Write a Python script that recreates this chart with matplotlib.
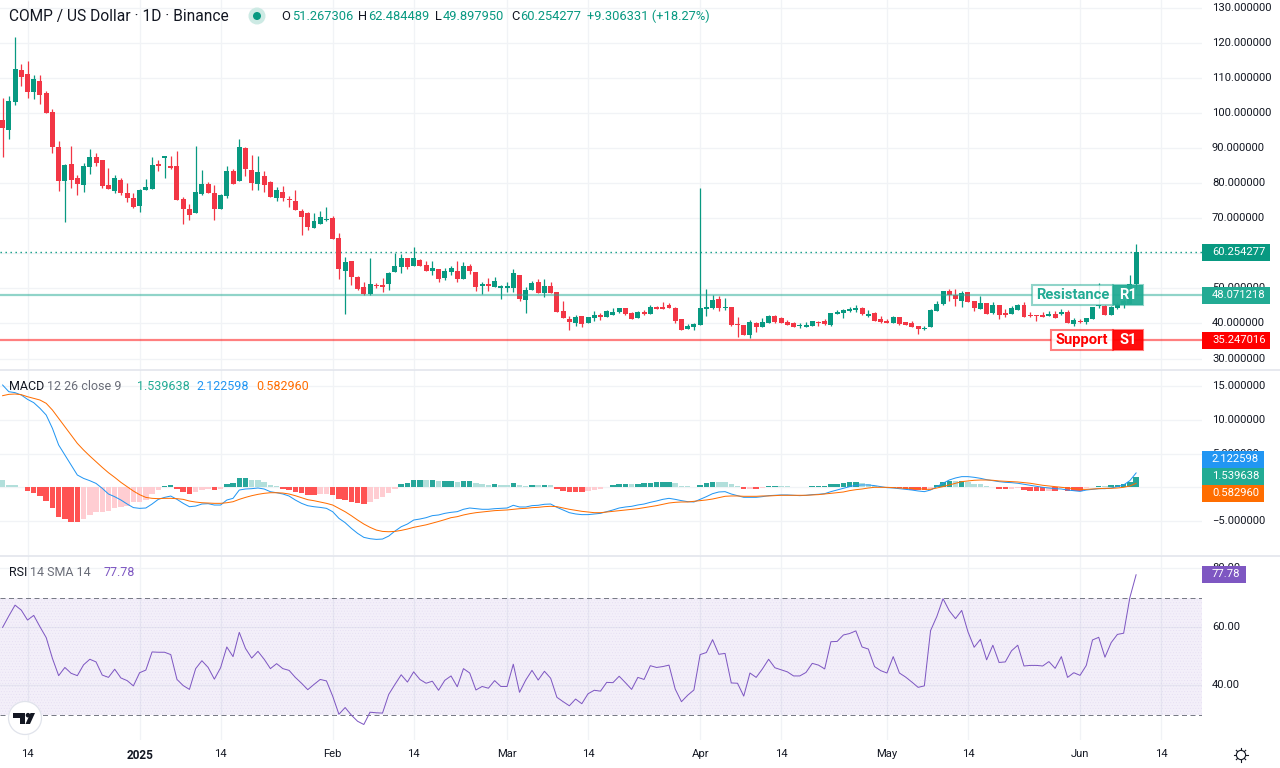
import numpy as np
import pandas as pd
import matplotlib
matplotlib.use("Agg")
import matplotlib.pyplot as plt
import matplotlib.dates as mdates
from matplotlib.patches import Rectangle, Circle, Polygon
from matplotlib.transforms import ScaledTranslation

plt.rcParams['font.family'] = ['Roboto', 'DejaVu Sans']
plt.rcParams['hatch.linewidth'] = 0.35

START_DATE = "2024-12-10"

HIGH = [104.1,104.8,121.5,113.9,114.8,110.8,110.8,106.2,101.1,92,
85.4,90.5,82.3,85.7,89.7,88.5,86.6,84.3,82.3,81.4,
80,77.1,78.3,81.1,87.4,86.6,87.7,87.7,89.1,76,
74,90.5,83.7,80.3,79.4,76.9,84.8,84,92.5,90.3,
88,87.7,83.4,80.6,78.9,79.1,76.3,78,72.6,71.7,
71.4,72,73.2,70.6,65.7,58.9,57.8,53.5,51.8,58.6,
51.5,52.9,54.6,60.1,59.8,58.6,61.8,58.3,57.8,57.8,
55.5,55.8,56.3,57.8,57.5,56.9,54.6,51.8,52.9,53.2,
51,51.8,55.5,53.8,50.4,52,52.6,52.6,51.8,49,
46.4,42.1,42.4,42.1,41.8,43.5,43,43.8,44.4,44.4,
44.4,43.2,43.5,43.8,45.2,45,46.1,45.8,44.7,41.2,
39.8,40.1,78.6,49.8,48.1,47.8,47.2,44.7,41.8,39.5,
41,40.4,41.5,42.4,42.4,41.8,41,40.4,40.1,40.4,
40.8,40.7,41.2,43,43.8,44.1,44.7,45.2,44.7,43.8,
43.2,42.1,41.2,42.1,41.8,40.4,40.7,39.3,39.3,44.1,
46.4,49.2,49.8,49.8,49.2,49,46.4,47.8,45.8,46.1,
45.2,44.1,45,45.5,46.1,43.2,42.4,43.2,43.5,43.5,
44.1,43.8,41.5,41.3,41.5,44.7,51.5,45.2,45,46,
47,53.8,62.484489]

LOW = [87.5,92.5,102.2,107.6,104.2,103.9,102.5,100,88.6,77.7,
68.9,78.6,76.6,77.4,82.6,84.8,78.6,78.3,77.1,76.6,
74.6,72.9,71.7,78,78.3,83.4,81.4,84,75.1,68.3,
69.5,71.5,76.6,77.1,69.5,72.6,75.7,79.7,80.6,82,
78,78,77.4,76,74.9,74.9,73.1,72.3,65.2,66.7,
67.2,68.3,69.2,64,52.6,42.7,51,49.5,48.1,48.1,
50,49,49.5,54.6,54.4,55.5,56.3,56.3,55,53.8,
51.8,52.4,53.8,51.8,52.6,54.1,49.2,48.4,49.2,50.4,
47,49,49,46.4,43,49.5,48.7,47.5,48.7,43.2,
41.5,38.1,39.3,39,40,40.7,41,41.8,42.4,43,
42.4,41.2,41.5,42.4,42.7,44.1,44.1,44.4,40.1,38.1,
38.4,38.1,39.5,42.1,44.1,43.5,43.8,39.2,36.1,36.7,
35.8,37.5,39,40.1,40.1,40,39.5,38.9,38.6,39,
39.2,39.2,39.5,39.3,42.7,41.5,43.2,43.2,42.4,41.8,
40.7,40.1,40.1,40.1,39.5,39.5,39,37,38.1,39,
43.5,45.2,46.4,45,44.7,46.1,43.5,44.1,42.7,42.7,
41.3,41.8,42.7,43.8,41.8,41.8,40.7,41.8,42.1,41.5,
42.4,40.1,39.3,40.1,39.8,41.3,44.4,42.4,42.4,44,
44.4,45.5,49.89795]

OPEN = [97.95,95.1,103.1,112.2,111,105.9,109.1,105.6,100.2,90.3,
80.6,85.4,81.4,79.4,84.6,87.4,86.5,79.4,77.7,80.9,
77.1,75.7,73.5,78,78.3,85.4,87,84.8,84.8,75.4,
72.6,71.5,76.9,79.7,77.1,72.6,76.3,83.4,80.6,90,
83.7,79.7,82,80.3,75.7,77.4,75.5,74.9,72,71.4,
67.2,68.3,69.5,70,64.3,54.9,57.8,53.2,50.4,48.4,
51,51,51.2,54.6,56,58.6,56.3,58,56.6,55,
55.5,52.9,54.6,55,52.6,56.3,54.6,50.7,51.2,50.4,
50.1,50.1,50.1,53.8,46.6,49.5,51.8,48.7,50.7,49,
43.5,41.2,40.1,42.1,40.1,41.5,42.4,41.8,42.4,43.2,
44.4,43,41.5,43.2,42.7,44.7,44.7,45.2,44.4,41.2,
38.4,39,39.5,44.1,44.4,47,44.4,44.7,39.8,39.5,
36.7,40.1,39,40.1,42.1,41.5,40.4,40.1,39.2,39,
39.3,40.4,40.7,39.5,42.7,43,43.5,43.8,44.4,42.1,
43,41.2,40.7,40.1,41.8,40.4,40.1,39.3,38.5,39,
43.5,45.5,49.2,48.1,46.4,49,46.4,44.1,45.8,43,
45.2,43,42.7,43.8,45.2,42.4,42.3,42.4,42.1,42.7,
42.7,43.2,39.8,40.8,40.4,41.3,44.9,45,42.4,44.5,
45.2,45.6,51.267306]

CLOSE = [95.8,103.4,112.5,110.2,105.9,109.6,105.1,100,90.3,80.6,
85.1,80.9,79.7,84.8,87.4,85.7,79.1,78.3,81.4,77.1,
75.7,73.2,78,78.9,85.1,84.8,87.7,84.3,75.1,72.6,
70.9,77.4,79.7,77.1,72.6,76.6,83.4,79.7,90.3,84,
80,83.1,79.4,76,78,75.7,75.2,72.3,70.3,67.5,
69.2,70.3,69.8,64,55.5,57.5,53.2,49.8,48.4,51.2,
50.7,50.4,54.4,56.3,58.6,56,58.6,56.3,55,55.8,
52.6,55,55.8,52.6,56.3,55,50.4,51.2,50.7,52.1,
50.7,50.7,54.4,47,49.5,51.5,48.7,50.7,48.7,43.2,
41.5,40.4,41.8,39.8,41.8,42.4,41.8,43.5,43.2,44.4,
42.7,41.2,43.2,42.7,44.7,44.1,44.1,44.4,40.7,38.1,
39.2,39.8,44.4,44.7,46.7,44.4,44.7,39.5,39.5,36.7,
40.4,39,40.4,42.1,40.4,40.1,39.5,39,39.5,39.5,
40.7,40.1,39.8,43,43.2,43.8,44.2,44.4,42.7,42.7,
40.7,40.4,40.1,41.8,39.8,39.5,39,38.4,38.8,43.8,
45.5,49.2,48.1,47,48.7,46.1,44.4,45.8,42.7,45.2,
42.4,42.4,44.4,45.2,41.8,42.1,42,41.8,42.7,41.5,
43.2,40.1,41,40.5,41.5,44.7,45,42.4,44.7,45.5,
46.4,51.267306,60.254277]

MACD_HIST = [1.08,.35,.35,.05,-.5,-.84,-1.28,-2.0,-3.06,-4.4,
-4.7,-5.13,-5.13,-4.7,-4.1,-3.65,-3.65,-3.5,-3.06,-2.9,
-2.76,-2.17,-2.17,-1.87,-1.0,-.4,.25,.35,-.25,-.7,-1.0,
-.7,-.4,-.25,-.4,-.25,.5,.64,1.38,1.38,1.08,
1.08,.8,.35,.2,-.25,-.4,-.7,-.84,-1.13,-1.13,
-1.0,-1.0,-1.13,-1.73,-1.87,-2.17,-2.3,-2.47,-2.17,-1.73,
-1.43,-.84,-.25,.5,.64,1.08,1.08,1.08,1.08,.94,
.94,.94,.8,.94,.94,.64,.5,.35,.5,.35,
.35,.64,.35,.2,.35,.35,.35,.35,-.25,-.54,
-.7,-.7,-.7,-.54,-.4,-.25,.1,.35,.5,.5,
.5,.5,.64,.64,.8,.8,.8,.64,.2,.2,
.05,.35,.64,.8,.8,.8,.5,.2,-.25,-.25,
-.25,-.1,.2,.2,.2,.2,.05,.05,.05,.2,
.2,.2,.5,.5,.64,.8,.8,.64,.5,.2,
.05,-.05,-.1,-.15,-.25,-.35,-.4,-.4,-.35,.35,
.8,.94,.94,.94,.74,.5,.5,.2,.05,-.3,
-.3,-.3,-.15,-.4,-.54,-.54,-.54,-.5,-.54,-.15,
-.54,-.54,-.54,-.15,.02,.2,.2,.35,.35,.5,
.8,1.539638]

# 'D' = histogram still widening away from zero, 'L' = narrowing
HIST_PHASE = ("L"*4+"D"*9+"L"*13+"D"*5+"L"*3+"D"+"L"+"D"*4+"L"*5+"D"*6+"L"*2+"D"*6+"L"*5+"D"*4
              +"L"+"D"+"L"+"D"*2+"L"+"D"*2+"L"*3+"D"+"L"*2+"D"+"L"*2+"D"+"L"+"D"+"L"+"D"*5+"L"*3
              +"D"*4+"L"+"D"*6+"L"*4+"D"*3+"L"*4+"D"+"L"+"D"+"L"+"D"*2+"L"*4+"D"*9+"L"*5+"D"*6
              +"L"+"D"*3+"L"+"D"+"L"*5+"D"*2+"L"*2+"D"*4+"L"+"D"+"L"+"D"*3+"L"*2+"D"+"L"+"D"*5)

MACD_LINE = [15.13,14.14,14.0,13.65,13.01,12.52,11.68,10.69,8.72,6.26,
4.78,3.3,1.82,1.32,.98,.58,-.15,-.99,-1.39,-1.88,
-2.47,-3.0,-3.11,-3.06,-2.47,-1.78,-1.49,-1.29,-1.78,-2.37,
-2.87,-2.77,-2.47,-2.42,-2.62,-2.62,-1.88,-1.63,-.4,-.25,
-.2,-.1,-.25,-.65,-.8,-.99,-1.29,-1.88,-2.37,-2.72,
-2.87,-2.97,-3.11,-3.61,-4.59,-5.23,-6.07,-6.81,-7.4,-7.6,
-7.7,-7.65,-7.21,-6.47,-5.83,-5.43,-4.84,-4.69,
-4.49,-4.19,-4.09,-3.85,-3.7,-3.6,-3.25,-3.06,-3.16,-3.25,
-3.25,-3.16,-3.11,-3.06,-2.66,-2.91,-2.91,-2.71,-2.66,-2.51,
-2.47,-2.96,-3.35,-3.75,-3.94,-4.04,-4.04,-3.94,-3.85,-3.6,
-3.35,-3.06,-2.91,-2.81,-2.61,-2.47,-2.22,-2.02,-1.78,-1.63,
-1.78,-1.97,-2.12,-2.17,-1.78,-1.38,-.94,-.69,-.64,-.99,
-1.23,-1.48,-1.48,-1.48,-1.38,-1.23,-1.18,-1.13,-1.13,-1.18,
-1.23,-1.18,-1.08,-1.03,-.94,-.64,-.39,-.15,.1,.3,
.35,.35,.25,.1,-.05,-.1,-.2,-.3,-.4,-.54,
-.64,-.4,.1,.6,1.08,1.38,1.58,1.58,1.48,1.33,
1.13,.99,.84,.74,.69,.6,.45,.3,.15,0,
-.1,-.2,-.25,-.4,-.5,-.6,-.4,-.3,-.2,-.2,
-.1,.1,.35,.99,2.122598]

SIGNAL_LINE = [13.55,13.75,13.8,13.7,13.4,13.16,12.91,12.42,11.43,10.2,
8.97,7.73,6.5,5.52,4.63,3.79,2.95,2.16,1.47,.73,
.09,-.55,-1.09,-1.49,-1.63,-1.68,-1.63,-1.63,-1.68,-1.78,
-2.03,-2.18,-2.28,-2.32,-2.37,-2.37,-2.28,-2.13,-1.78,-1.49,
-1.24,-1.04,-.89,-.8,-.8,-.85,-.99,-1.24,-1.54,-1.83,
-1.98,-2.18,-2.37,-2.62,-3.11,-3.61,-4.2,-4.84,-5.43,-5.92,
-6.32,-6.52,-6.57,-6.52,-6.37,-6.17,-5.92,-5.73,
-5.55,-5.3,-5.05,-4.78,-4.49,-4.34,-4.09,-3.9,-3.75,-3.65,
-3.55,-3.45,-3.4,-3.35,-3.25,-3.16,-3.11,-3.01,-2.96,-2.86,
-2.81,-2.86,-3.06,-3.25,-3.4,-3.55,-3.65,-3.75,-3.75,-3.65,
-3.55,-3.45,-3.35,-3.25,-3.16,-3.01,-2.86,-2.71,-2.51,-2.32,
-2.22,-2.17,-2.17,-2.07,-1.97,-1.87,-1.73,-1.53,-1.33,-1.28,
-1.28,-1.33,-1.33,-1.33,-1.28,-1.28,-1.23,-1.18,-1.18,-1.18,
-1.18,-1.18,-1.13,-1.08,-.99,-.89,-.79,-.69,-.49,-.35,
-.25,-.1,0,0,0,-.05,-.1,-.12,-.15,-.2,
-.28,-.3,-.1,.1,.35,.6,.84,.94,1.04,1.08,
1.08,1.04,.94,.89,.84,.79,.69,.6,.45,.3,
.2,.1,0,-.1,-.2,-.3,-.3,-.25,-.2,-.15,
-.15,-.1,0,.2,.58296]

RSI = [59.8,63.7,67.4,65.7,62.3,63.9,60,56.3,49.2,43.3,
46.1,44.1,43.3,47,48.9,48,43.5,42.7,45.5,42.5,
41.6,39.8,44.3,45.2,51.4,51.3,51.3,50.5,42,39.9,
38.6,45.7,48.4,46.1,42.1,46,53.1,49.8,58.1,52.6,
49.3,51.6,48.9,45.7,47.4,45.7,45.1,42.7,40.7,38.5,
40.3,42,41.5,36.3,30.1,32.4,29.8,27.7,26.6,30.8,
30.6,30.5,36.9,40.3,43.6,41.1,44.6,42,40.7,41.4,
38.3,41.7,43.2,39.5,45.7,44.2,38.4,39.6,39,41.6,
39.6,39.6,47.2,37.6,41.8,45.1,41.8,44.8,42.4,35.9,
34.4,33,35.3,33.7,37.1,38.3,38,41,40.9,43.1,
40.9,38.6,42.7,42,46.7,46.1,46.4,46.9,38.7,34.4,
36.6,38.4,50.5,51.2,55.6,50.6,50.9,40.8,40.7,36.3,
44.2,42.7,45.6,48.9,46,45.3,44.6,43.2,43.2,44.4,
47.5,46.9,45.6,54.9,55,57.2,57.7,58.6,53.1,52.4,
46.4,45,44.2,49.8,44.2,42.8,41.1,39.3,39.8,58.7,
63.5,69.6,65.5,62.8,65.6,58.3,53,55.7,48.7,53.7,
47.8,48,51.8,53.7,46.6,46.8,46.8,46.6,48.1,45.8,
49.8,42.7,44.3,43.4,46.8,55.5,56.4,49.6,54.6,57.4,
57.8,70,77.78]

PRICE_TICKS = [30,40,50,60,70,80,90,100,110,120,130]
MACD_TICKS = [-5,0,5,10,15]
RSI_TICKS = [40,60,80]
DATE_TICKS = ["2024-12-14","2025-01-01","2025-01-14","2025-02-01","2025-02-14","2025-03-01",
              "2025-03-14","2025-04-01","2025-04-14","2025-05-01","2025-05-14","2025-06-01","2025-06-14"]
DATE_LABELS = ["14","2025","14","Feb","14","Mar","14","Apr","14","May","14","Jun","14"]

LAST_PRICE = 60.254277
RESISTANCE = 48.071218
SUPPORT = 35.247016
MACD_HIST_LAST, MACD_LAST, SIGNAL_LAST = 1.539638, 2.122598, 0.582960
RSI_LAST = 77.78

lens = dict(O=len(OPEN), H=len(HIGH), L=len(LOW), C=len(CLOSE), HIST=len(MACD_HIST), M=len(MACD_LINE),
            S=len(SIGNAL_LINE), R=len(RSI), P=len(HIST_PHASE))
assert set(lens.values()) == {183}, lens

GREEN, RED = "#089981", "#F23645"
TEAL = "#22ab94"
GRID = "#f1f3f6"
INK = "#131722"
GREY = "#6a6d78"
BLUE, ORANGE, PURPLE = "#2196f3", "#ff6d00", "#7e57c2"

W, H = 1280, 768
fig = plt.figure(figsize=(W/100, H/100), dpi=100, facecolor="white")

def pane(top, bottom):
    return fig.add_axes([0, 1-bottom/H, 1202/W, (bottom-top)/H])

ax1 = pane(0, 369)
ax2 = pane(370, 555)
ax3 = pane(556, 740)

dates = pd.date_range(START_DATE, periods=len(CLOSE), freq="D")
x = mdates.date2num(dates)
PX_PER_DAY = 6.228
xlim = (x[0]-2.6/PX_PER_DAY, x[0]+(1202-2.6)/PX_PER_DAY)
ticks_x = mdates.date2num(pd.to_datetime(DATE_TICKS))

ax1.set_ylim(27.01, 132.14)
ax2.set_ylim(-10.01, 17.35)
ax3.set_ylim(21.3, 84.2)

for ax in (ax1, ax2, ax3):
    ax.set_xlim(*xlim)
    ax.set_xticks(ticks_x)
    for s in ax.spines.values():
        s.set_visible(False)
    ax.yaxis.tick_right()
    ax.tick_params(axis="y", length=0, pad=7.2, labelsize=8.1, labelcolor=INK)
    ax.tick_params(axis="x", length=0, labelbottom=False)
    ax.grid(True, color=GRID, lw=0.95)
    ax.set_axisbelow(True)

ax1.set_yticks(PRICE_TICKS, [f"{v:.6f}" for v in PRICE_TICKS])
# the zero label lies wholly behind the value tags, so only its grid line shows
ax2.set_yticks(MACD_TICKS, ["" if v == 0 else f"{v:.6f}".replace("-", "\u2212") for v in MACD_TICKS])
ax3.set_yticks(RSI_TICKS, [f"{v:.2f}" for v in RSI_TICKS])

# y labels sit one pixel above their grid line
lift = ScaledTranslation(0, 1/100, fig.dpi_scale_trans)
for ax in (ax1, ax2, ax3):
    for lab in ax.get_yticklabels():
        lab.set_transform(lab.get_transform() + lift)

ax3.tick_params(axis="x", labelbottom=True, labelsize=8.1, labelcolor=INK, pad=6.3)
ax3.set_xticklabels(DATE_LABELS)
for lab, txt in zip(ax3.get_xticklabels(), DATE_LABELS):
    if txt == "2025":
        lab.set_fontweight("bold")
        lab.set_fontsize(8.5)

# candles
o, h, l, c = map(np.array, (OPEN, HIGH, LOW, CLOSE))
cols = np.where(c >= o, GREEN, RED)
ax1.vlines(x, l, h, colors=cols, lw=0.9, zorder=3)
ax1.bar(x, np.maximum(np.abs(c-o), 0.3), bottom=np.minimum(o, c), width=0.8, color=cols, lw=0, zorder=4)
ax1.axhline(LAST_PRICE, color=GREEN, lw=1.0, ls=(0, (1, 2.6)), zorder=2)
ax1.axhline(RESISTANCE, color=TEAL, alpha=0.5, lw=1.6, zorder=5)
ax1.axhline(SUPPORT, color="#ff0000", alpha=0.5, lw=1.6, zorder=5)

# MACD
hist = np.array(MACD_HIST)
hcols = []
for v, ph in zip(hist, HIST_PHASE):
    if v >= 0:
        hcols.append("#26a69a" if ph == "D" else "#b2dfdb")
    else:
        hcols.append("#ff5252" if ph == "D" else "#ffcdd2")
ax2.bar(x, hist, width=0.88, color=hcols, lw=0, zorder=2)
ax2.plot(x, MACD_LINE, color=BLUE, lw=0.72, zorder=3)
ax2.plot(x, SIGNAL_LINE, color=ORANGE, lw=0.72, zorder=3)

# RSI
ax3.axhspan(30, 70, color=PURPLE, alpha=0.09, lw=0, zorder=1)
ax3.axhspan(30, 70, facecolor="none", edgecolor=(0.49, 0.34, 0.76, 0.10), hatch="......", lw=0, zorder=1)
ax3.axhline(70, color="#787b86", lw=0.72, ls=(0, (5, 3.5)), zorder=2)
ax3.axhline(30, color="#787b86", lw=0.72, ls=(0, (5, 3.5)), zorder=2)
ax3.plot(x, RSI, color=PURPLE, lw=0.72, zorder=3)

# overlay in pixel coordinates
ov = fig.add_axes([0, 0, 1, 1], zorder=10)
ov.set_xlim(0, W); ov.set_ylim(H, 0)
ov.axis("off"); ov.patch.set_alpha(0)

def ypx(ax, v):
    return H - ax.transData.transform((x[0], v))[1]

ov.plot([0, W], [369.5, 369.5], color="#e0e3eb", lw=1.1)
ov.plot([0, W], [555.5, 555.5], color="#e0e3eb", lw=1.1)

def tag(yc, text, color, width):
    ov.add_patch(Rectangle((1202, yc-8.5), width, 17, color=color, lw=0, zorder=5))
    ov.text(1212, yc-0.3, text, color="white", fontsize=8.1, va="center", ha="left", zorder=6)

tag(ypx(ax1, LAST_PRICE), f"{LAST_PRICE:.6f}", GREEN, 68)
tag(ypx(ax1, RESISTANCE), f"{RESISTANCE:.6f}", TEAL, 68)
tag(ypx(ax1, SUPPORT), f"{SUPPORT:.6f}", "#ff0000", 68)
tag(459.4, f"{MACD_LAST:.6f}", BLUE, 62)
tag(476.4, f"{MACD_HIST_LAST:.6f}", TEAL, 62)
tag(493.4, f"{SIGNAL_LAST:.6f}", ORANGE, 62)
tag(574.4, f"{RSI_LAST:.2f}", PURPLE, 44)

def level_label(x0, split, x1, yc, hh, word, code, color):
    ov.add_patch(Rectangle((x0, yc-hh), split-x0, 2*hh, facecolor=(1, 1, 1, 0.86),
                           edgecolor=matplotlib.colors.to_rgba(color, 0.5), lw=1.5, zorder=3))
    ov.add_patch(Rectangle((split, yc-hh), x1-split, 2*hh, facecolor=matplotlib.colors.to_rgba(color, 0.95),
                           edgecolor=matplotlib.colors.to_rgba(color, 0.5), lw=1.5, zorder=3))
    ov.text((x0+split)/2, yc-0.5, word, color=color, fontsize=10.6, fontweight="bold",
            va="center", ha="center", zorder=4)
    ov.text((split+x1)/2, yc-0.5, code, color="white", fontsize=10.6, fontweight="bold",
            va="center", ha="center", zorder=4)

level_label(1032, 1113, 1143, ypx(ax1, RESISTANCE), 10, "Resistance", "R1", TEAL)
level_label(1051, 1113, 1143, ypx(ax1, SUPPORT), 10, "Support", "S1", "#ff0000")

# header legend
ov.text(9, 16.5, "COMP / US Dollar \u00b7 1D \u00b7 Binance", color=INK, fontsize=11.2, va="center")
ov.add_patch(Circle((257, 16), 8.5, color="#cdeae4", lw=0))
ov.add_patch(Circle((257, 16), 4, color=GREEN, lw=0))
for xl, letter, xv, val in [(281, "O", 292, "51.267306"), (358, "H", 368, "62.484489"),
                            (435, "L", 443, "49.897950"), (511, "C", 520, "60.254277")]:
    ov.text(xl, 16.5, letter, color=INK, fontsize=9.3, va="center")
    ov.text(xv, 16.5, val, color=GREEN, fontsize=9.3, va="center")
ov.text(587, 16.5, "+9.306331 (+18.27%)", color=GREEN, fontsize=9.3, va="center")

# MACD legend
ov.text(9, 386, "MACD", color=INK, fontsize=9, va="center")
ov.text(47, 386, "12 26 close 9", color=GREY, fontsize=9, va="center")
ov.text(137, 386, f"{MACD_HIST_LAST:.6f}", color=TEAL, fontsize=9, va="center")
ov.text(196, 386, f"{MACD_LAST:.6f}", color=BLUE, fontsize=9, va="center")
ov.text(256, 386, f"{SIGNAL_LAST:.6f}", color=ORANGE, fontsize=9, va="center")

# RSI legend
ov.text(9, 572.5, "RSI", color=INK, fontsize=9, va="center")
ov.text(30, 572.5, "14 SMA 14", color=GREY, fontsize=9, va="center")
ov.text(103, 572.5, f"{RSI_LAST:.2f}", color=PURPLE, fontsize=9, va="center")

# logo
ov.add_patch(Circle((25, 718), 16.5, facecolor="white", edgecolor="#e0e3eb", lw=0.9))
ov.add_patch(Polygon([(13, 713), (25, 713), (25, 724), (20, 724), (20, 717.5), (13, 717.5)], color=INK, lw=0))
ov.add_patch(Circle((28, 715.2), 2.3, color=INK, lw=0))
ov.add_patch(Polygon([(30.5, 713), (35, 713), (30, 724), (25.5, 724)], color=INK, lw=0))

# settings glyph
ov.add_patch(Circle((1241, 755), 4.6, facecolor="white", edgecolor=INK, lw=0.8))
for a in np.arange(0, 360, 45):
    r = np.deg2rad(a)
    ov.plot([1241+4.6*np.cos(r), 1241+6.6*np.cos(r)], [755+4.6*np.sin(r), 755+6.6*np.sin(r)], color=INK, lw=0.8)

fig.savefig("out.png", dpi=100)
